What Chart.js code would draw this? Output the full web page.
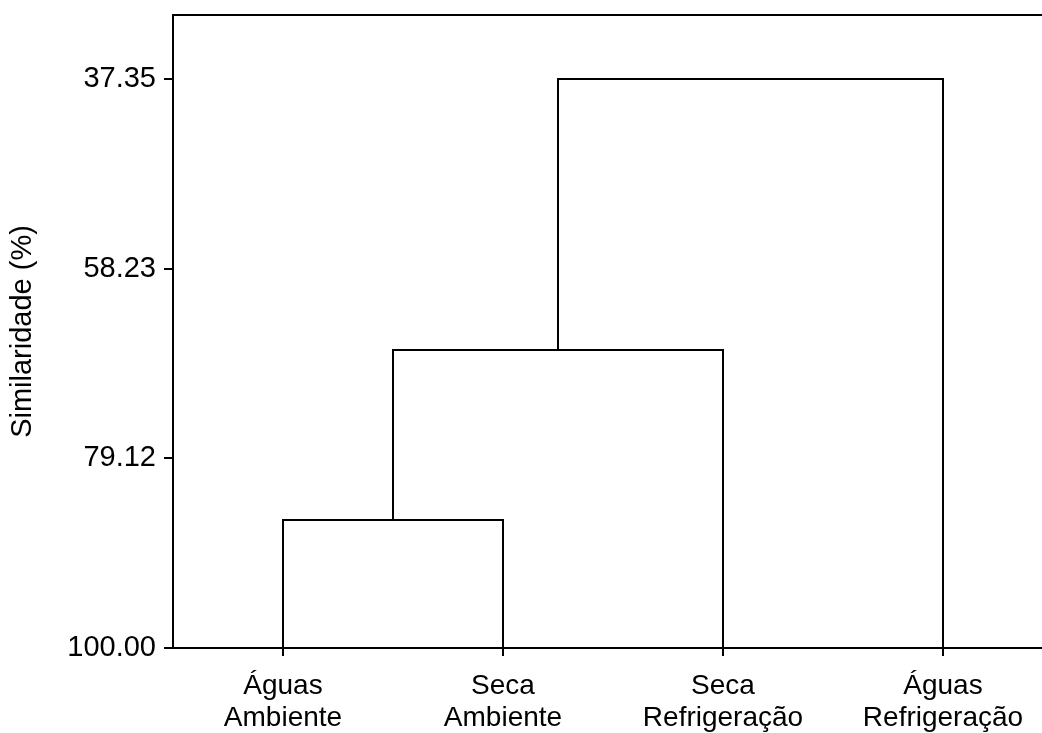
<!DOCTYPE html>
<html>
<head>
<meta charset="utf-8">
<script src="https://cdn.jsdelivr.net/npm/chart.js@4.4.1/dist/chart.umd.min.js"></script>
<style>
  html, body { margin: 0; padding: 0; background: #fff; overflow: hidden; }
  #wrap { width: 1042px; height: 733px; position: relative; }
</style>
</head>
<body>
<div id="wrap"><canvas id="dendro"></canvas></div>
<script>
// --- datos del dendrograma ---
const folhas = [['Águas', 'Ambiente'], ['Seca', 'Ambiente'], ['Seca', 'Refrigeração'], ['Águas', 'Refrigeração']];
// nós 0..3 = folhas, 4.. = fusões (na ordem abaixo)
const fusaoA = [0, 4, 5];
const fusaoB = [1, 2, 3];
const alturaFusao = [85.91, 67.19, 37.35];
const ticksY = [37.35, 58.23, 79.12, 100.00];

// posição x e altura de cada nó
const noX = folhas.map((f, i) => i + 1);
const noY = folhas.map(() => 100);
const datasets = [];
alturaFusao.forEach((h, k) => {
  const a = fusaoA[k], b = fusaoB[k];
  datasets.push({
    data: [
      { x: noX[a], y: noY[a] },
      { x: noX[a], y: h },
      { x: noX[b], y: h },
      { x: noX[b], y: noY[b] }
    ],
    showLine: true,
    borderColor: '#000',
    borderWidth: 2,
    pointRadius: 0,
    tension: 0,
    fill: false
  });
  noX.push((noX[a] + noX[b]) / 2);
  noY.push(h);
});

const fonte = { family: '"Liberation Sans", Arial, sans-serif', size: 28 };

// linha superior da moldura
const moldura = {
  id: 'moldura',
  afterDraw(chart) {
    const { ctx, chartArea } = chart;
    ctx.save();
    ctx.strokeStyle = '#000';
    ctx.lineWidth = 2;
    ctx.beginPath();
    ctx.moveTo(chartArea.left, chartArea.top);
    ctx.lineTo(chartArea.right, chartArea.top);
    ctx.stroke();
    ctx.restore();
  }
};

new Chart(document.getElementById('dendro'), {
  type: 'scatter',
  data: { datasets },
  plugins: [moldura],
  options: {
    responsive: true,
    maintainAspectRatio: false,
    animation: false,
    layout: { padding: { top: 15, left: 0, right: 0, bottom: 0 } },
    plugins: { legend: { display: false }, tooltip: { enabled: false } },
    scales: {
      x: {
        type: 'linear',
        min: 0.5,
        max: 4.45,
        afterBuildTicks: s => { s.ticks = folhas.map((f, i) => ({ value: i + 1 })); },
        afterFit: s => { s.height = 85; s.paddingLeft = 0; s.paddingRight = 0; },
        ticks: {
          color: '#000',
          font: { family: fonte.family, size: 28, lineHeight: 1.12 },
          padding: 15,
          maxRotation: 0,
          autoSkip: false,
          callback: v => folhas[Math.round(v) - 1]
        },
        grid: { display: true, drawOnChartArea: false, drawTicks: true, tickLength: 8, color: '#000', lineWidth: 2 },
        border: { display: true, color: '#000', width: 2 }
      },
      y: {
        type: 'linear',
        reverse: true,
        min: 30.3,
        max: 100,
        afterBuildTicks: s => { s.ticks = ticksY.map(v => ({ value: v })); },
        afterFit: s => { s.width = 173; s.paddingTop = 0; s.paddingBottom = 0; },
        ticks: {
          color: '#000',
          font: { family: fonte.family, size: 29 },
          padding: 8,
          callback: v => Number(v).toFixed(2)
        },
        grid: { display: true, drawOnChartArea: false, drawTicks: true, tickLength: 9, color: '#000', lineWidth: 2 },
        border: { display: true, color: '#000', width: 2 },
        title: {
          display: true,
          text: 'Similaridade (%)',
          color: '#000',
          font: { family: fonte.family, size: 29 },
          padding: { top: 6, bottom: 0 }
        }
      }
    }
  }
});
</script>
</body>
</html>
